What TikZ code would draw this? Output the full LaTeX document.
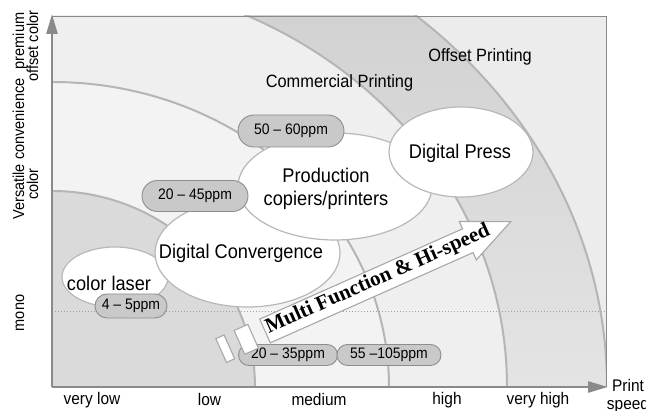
\documentclass[tikz,border=0pt]{standalone}
\usepackage{fontspec}
\setmainfont{Liberation Sans}
\newfontfamily\tallsans{Liberation Sans}[FakeStretch=0.92]
\newfontfamily\arrowfont{Liberation Serif}
\usetikzlibrary{shapes.geometric,shapes.misc,arrows.meta}

\definecolor{outerband}{HTML}{ECECEC}
\definecolor{darkband}{HTML}{D2D2D2}
\definecolor{darkbandlow}{HTML}{E4E4E4}
\definecolor{midband}{HTML}{EFEFEF}
\definecolor{innerlight}{HTML}{F3F3F3}
\definecolor{coreband}{HTML}{DADADA}
\definecolor{arcgray}{HTML}{B5B5B5}
\definecolor{blobline}{HTML}{B8B8B8}
\definecolor{pillfill}{HTML}{C9C9C9}
\definecolor{pillline}{HTML}{8E8E8E}
\definecolor{axisgray}{HTML}{8A8A8A}
\definecolor{dotgray}{HTML}{A0A0A0}
\definecolor{arrowline}{HTML}{A8A8A8}

\begin{document}
\begin{tikzpicture}[x=1pt,y=1pt,
  arcline/.style={draw=arcgray, line width=2pt},
  blob/.style={ellipse, draw=blobline, fill=white, line width=1.2pt, inner sep=0pt},
  pill/.style={rounded rectangle, draw=pillline, fill=pillfill, line width=0.9pt,
    inner sep=0pt, font=\tallsans\fontsize{15.2}{17}\selectfont},
  blobtext/.style={inner sep=0pt, align=center, font=\tallsans\fontsize{19.8}{23}\selectfont},
  zonetext/.style={inner sep=0pt, font=\tallsans\fontsize{17.8}{19}\selectfont},
  axislabel/.style={inner sep=0pt, align=center, font=\tallsans\fontsize{16.8}{18}\selectfont},
  sidelabel/.style={inner sep=0pt, rotate=90, anchor=base, font=\tallsans\fontsize{15.8}{17}\selectfont},
  axisline/.style={draw=axisgray, line width=2.6pt, -{Triangle[length=20pt,width=11pt]}},
  frameline/.style={draw=axisgray, line width=0.8pt},
  trendshape/.style={fill=white, draw=arrowline, line width=1.1pt, line join=miter},
]
\useasboundingbox (0,0) rectangle (646,411);

% frame corners
\coordinate (O)  at (52,24);
\coordinate (TL) at (52,395);
\coordinate (TR) at (606,395);
\coordinate (BR) at (606,24);

% concentric market bands
\begin{scope}
  \clip (O) rectangle (TR);
  \fill[outerband] (O) rectangle (TR);
  \begin{scope}
    \clip (O) ellipse [x radius=555, y radius=492];
    \shade[top color=darkband, bottom color=darkbandlow] (O) rectangle (TR);
  \end{scope}
  \fill[midband]    (O) ellipse [x radius=455, y radius=411];
  \fill[innerlight] (O) ellipse [x radius=337, y radius=305];
  \fill[coreband]   (O) ellipse [x radius=203, y radius=196];
  \foreach \a/\b in {203/196, 337/305, 455/411, 555/492}
    \draw[arcline] (O) ellipse [x radius=\a, y radius=\b];
\end{scope}

% mono / colour divider
\coordinate (monoL) at (52,99);
\coordinate (monoR) at (606,99);
\draw[dotgray, line width=1pt, dotted] (monoL) -- (monoR);

% frame and axes
\coordinate (ytip) at (52,397);
\coordinate (xtip) at (608,24);
\draw[frameline] (TL) -- (TR) -- (BR);
\draw[axisline] (O) -- (ytip);
\draw[axisline] (O) -- (xtip);

% zone names
\node[zonetext] (commercial) at (339.5,328) {Commercial Printing};
\node[zonetext] (offset) at (480,354) {Offset Printing};

% product classes
\node[blob, minimum width=106, minimum height=60] (laser) at (115,134) {};
\node[blob, minimum width=185, minimum height=108] (convergence) at (247.5,158) {};
\node[blob, minimum width=194, minimum height=107] (production) at (335,224.5) {};
\node[blob, minimum width=144, minimum height=90] (press) at (461,259) {};

\node[blobtext] (laserT) at (109,128) {color laser};
\node[blobtext] (convergenceT) at (241,158) {Digital Convergence};
\node[blobtext] (productionT) at (326,222) {Production\\copiers/printers};
\node[blobtext] (pressT) at (460,258) {Digital Press};

% speed ranges
\node[pill, minimum width=106, minimum height=32] (p5060) at (291,280) {50 – 60ppm};
\node[pill, minimum width=106, minimum height=31] (p2045) at (195,215) {20 – 45ppm};
\node[pill, minimum width=72, minimum height=24] (p45) at (131,105) {4 – 5ppm};
\node[pill, minimum width=99, minimum height=21] (p2035) at (288,56) {20 – 35ppm};
\node[pill, minimum width=104, minimum height=21] (p55105) at (389,56) {55 –105ppm};

% trend arrow
\begin{scope}[shift={(265,80)}, rotate=24]
  \fill[trendshape] (-48,-13) rectangle (-39,13);
  \fill[trendshape] (-28,-13) rectangle (-13,13);
  \fill[trendshape] (0,-13) -- (222,-13) -- (222,-21) -- (269,0) -- (222,21)
    -- (222,13) -- (0,13) -- cycle;
  \node[transform shape, inner sep=0pt,
    font=\arrowfont\bfseries\fontsize{21}{22}\selectfont] (trend) at (124,1)
    {Multi Function \& Hi-speed};
\end{scope}

% vertical axis labels
\node[sidelabel] (yprem1) at (24,370) {premium};
\node[sidelabel] (yprem2) at (38,365) {offset color};
\node[sidelabel] (yvers1) at (24,262) {Versatile convenience};
\node[sidelabel] (yvers2) at (38,227) {color};
\node[sidelabel] (ymono) at (24,98) {mono};

% horizontal axis labels
\node[axislabel] (xvl) at (92,11) {very low};
\node[axislabel] (xl) at (209.5,11) {low};
\node[axislabel] (xm) at (319,11) {medium};
\node[axislabel] (xh) at (447,11) {high};
\node[axislabel] (xvh) at (538,11) {very high};
\node[axislabel] (xname) at (628,15) {Print\\speed};
\end{tikzpicture}
\end{document}
